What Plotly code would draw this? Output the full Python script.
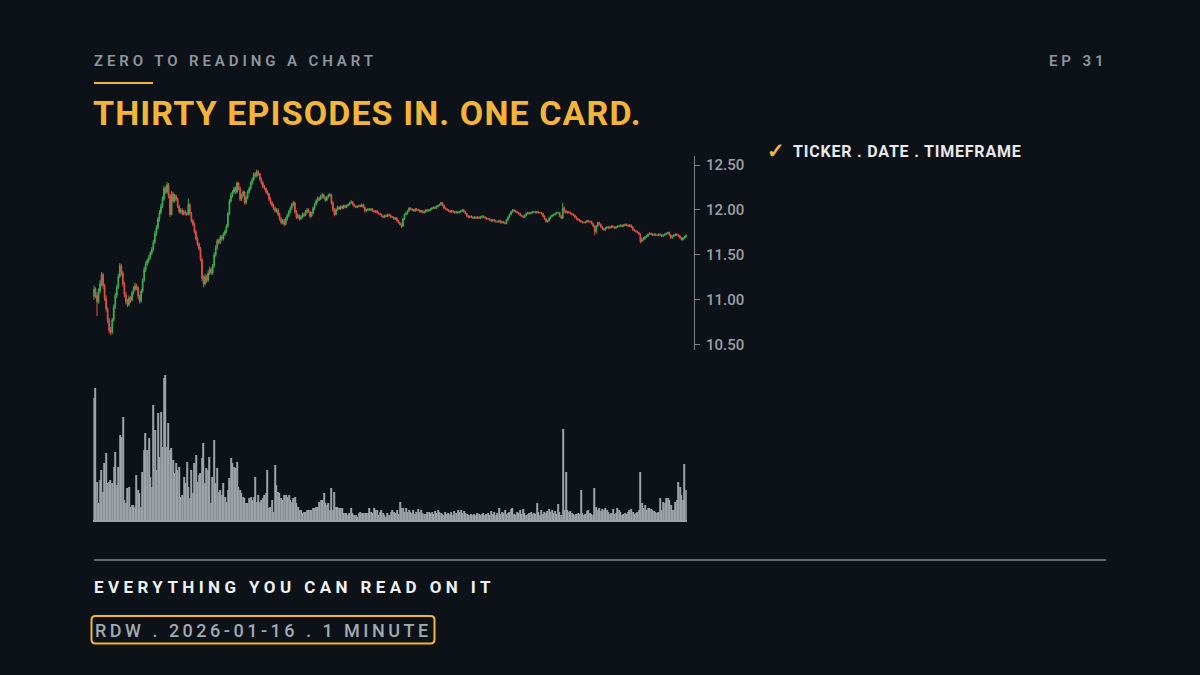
import plotly.graph_objects as go
import pandas as pd

W, H = 1200, 675
BG = "#0d1118"
GOLD = "#f2b53a"
GRAY = "#8f96a0"
UP = "#3fae55"
DN = "#e0524a"
VOL = "#9ea3ab"

# ---- data: RDW, 2026-01-16, 1-minute bars (390 bars, 09:30-15:59) ----
open_ = [
    11.04, 11.12, 11.05, 10.98, 11.10, 11.18, 11.28, 11.16, 11.02, 10.90,
    10.78, 10.66, 10.64, 10.78, 10.92, 11.05, 11.14, 11.26, 11.38, 11.30,
    11.18, 11.06, 10.98, 10.95, 11.02, 11.00, 11.08, 11.12, 11.16, 11.14,
    11.04, 10.99, 11.10, 11.22, 11.34, 11.40, 11.44, 11.47, 11.52, 11.56,
    11.64, 11.74, 11.80, 11.90, 11.97, 12.04, 12.12, 12.24, 12.20, 12.28,
    12.16, 11.95, 12.18, 12.10, 12.16, 12.12, 12.04, 11.98, 12.00, 11.96,
    11.98, 11.96, 11.95, 12.06, 11.96, 11.88, 11.84, 11.76, 11.68, 11.62,
    11.57, 11.45, 11.24, 11.18, 11.26, 11.22, 11.30, 11.34, 11.30, 11.38,
    11.50, 11.58, 11.66, 11.64, 11.70, 11.68, 11.73, 11.76, 11.82, 11.96,
    12.10, 12.16, 12.20, 12.24, 12.20, 12.30, 12.24, 12.12, 12.16, 12.20,
    12.08, 12.14, 12.20, 12.24, 12.30, 12.34, 12.40, 12.38, 12.43, 12.40,
    12.34, 12.30, 12.26, 12.24, 12.20, 12.18, 12.12, 12.08, 12.05, 12.02,
    11.99, 12.00, 11.95, 11.90, 11.86, 11.88, 11.84, 11.90, 11.94, 11.98,
    12.02, 12.06, 12.08, 11.98, 11.92, 11.94, 11.90, 11.92, 11.95, 11.94,
    11.98, 12.00, 11.98, 11.93, 11.96, 12.02, 12.06, 12.10, 12.13, 12.12,
    12.15, 12.17, 12.14, 12.11, 12.14, 12.16, 12.17, 12.08, 12.00, 11.95,
    12.00, 12.03, 12.01, 12.04, 12.02, 12.05, 12.03, 12.05, 12.06, 12.08,
    12.09, 12.06, 12.04, 12.03, 12.04, 12.05, 12.04, 12.06, 12.03, 11.99,
    12.00, 12.01, 12.00, 12.01, 11.99, 11.98, 11.99, 11.97, 11.96, 11.95,
    11.93, 11.92, 11.94, 11.93, 11.95, 11.94, 11.92, 11.92, 11.90, 11.91,
    11.88, 11.86, 11.84, 11.82, 11.90, 11.95, 11.96, 11.99, 12.02, 12.01,
    12.00, 11.99, 12.01, 12.00, 12.00, 11.98, 11.99, 11.97, 11.98, 12.00,
    11.99, 12.00, 12.01, 12.02, 12.03, 12.02, 12.04, 12.05, 12.06, 12.08,
    12.05, 12.02, 12.01, 12.00, 11.99, 11.98, 11.99, 11.98, 11.97, 11.98,
    11.97, 11.98, 11.99, 12.00, 11.98, 11.96, 11.93, 11.92, 11.93, 11.92,
    11.91, 11.92, 11.91, 11.92, 11.91, 11.92, 11.93, 11.92, 11.91, 11.90,
    11.90, 11.89, 11.88, 11.89, 11.88, 11.87, 11.87, 11.88, 11.86, 11.87,
    11.86, 11.85, 11.89, 11.92, 11.95, 11.98, 12.00, 11.99, 11.98, 11.97,
    11.96, 11.94, 11.93, 11.92, 11.94, 11.96, 11.97, 11.96, 11.97, 11.98,
    11.98, 11.97, 11.98, 11.97, 11.97, 11.96, 11.93, 11.90, 11.87, 11.88,
    11.91, 11.93, 11.94, 11.95, 11.96, 11.97, 11.97, 11.93, 11.91, 12.02,
    11.99, 11.97, 11.98, 11.97, 11.96, 11.95, 11.94, 11.92, 11.90, 11.89,
    11.88, 11.87, 11.86, 11.86, 11.87, 11.88, 11.87, 11.87, 11.85, 11.82,
    11.76, 11.82, 11.86, 11.84, 11.81, 11.79, 11.78, 11.80, 11.81, 11.80,
    11.81, 11.82, 11.81, 11.80, 11.81, 11.82, 11.82, 11.83, 11.82, 11.83,
    11.84, 11.83, 11.82, 11.83, 11.81, 11.78, 11.77, 11.76, 11.75, 11.73,
    11.65, 11.67, 11.68, 11.70, 11.71, 11.73, 11.74, 11.73, 11.72, 11.73,
    11.72, 11.72, 11.73, 11.72, 11.71, 11.72, 11.73, 11.74, 11.75, 11.72,
    11.69, 11.71, 11.72, 11.73, 11.72, 11.71, 11.69, 11.67, 11.69, 11.70,
]
high = [
    11.16, 11.14, 11.08, 11.13, 11.22, 11.31, 11.30, 11.18, 11.05, 10.92,
    10.80, 10.70, 10.80, 10.95, 11.08, 11.17, 11.29, 11.41, 11.40, 11.32,
    11.20, 11.09, 11.01, 11.05, 11.04, 11.10, 11.15, 11.19, 11.18, 11.15,
    11.06, 11.12, 11.24, 11.37, 11.43, 11.46, 11.50, 11.54, 11.59, 11.67,
    11.77, 11.83, 11.92, 12.00, 12.07, 12.15, 12.27, 12.26, 12.31, 12.30,
    12.18, 12.21, 12.20, 12.18, 12.17, 12.14, 12.06, 12.02, 12.02, 12.00,
    12.00, 11.98, 12.13, 12.08, 11.98, 11.90, 11.86, 11.78, 11.70, 11.64,
    11.59, 11.47, 11.27, 11.29, 11.28, 11.33, 11.37, 11.36, 11.40, 11.53,
    11.61, 11.68, 11.68, 11.72, 11.72, 11.75, 11.78, 11.84, 11.98, 12.12,
    12.19, 12.22, 12.26, 12.26, 12.32, 12.31, 12.26, 12.18, 12.22, 12.21,
    12.16, 12.22, 12.26, 12.32, 12.36, 12.42, 12.42, 12.45, 12.44, 12.41,
    12.36, 12.32, 12.28, 12.25, 12.22, 12.19, 12.14, 12.10, 12.07, 12.04,
    12.02, 12.02, 11.97, 11.92, 11.90, 11.90, 11.92, 11.96, 12.00, 12.04,
    12.08, 12.10, 12.09, 12.00, 11.96, 11.95, 11.94, 11.97, 11.97, 12.00,
    12.02, 12.02, 11.99, 11.98, 12.04, 12.08, 12.12, 12.15, 12.15, 12.17,
    12.19, 12.18, 12.15, 12.16, 12.18, 12.19, 12.18, 12.10, 12.02, 12.02,
    12.05, 12.04, 12.05, 12.05, 12.06, 12.06, 12.06, 12.07, 12.09, 12.11,
    12.10, 12.07, 12.05, 12.05, 12.06, 12.06, 12.07, 12.07, 12.04, 12.01,
    12.02, 12.02, 12.02, 12.02, 12.00, 12.00, 12.00, 11.98, 11.97, 11.96,
    11.94, 11.95, 11.95, 11.96, 11.96, 11.95, 11.93, 11.93, 11.92, 11.92,
    11.89, 11.87, 11.85, 11.91, 11.96, 11.98, 12.00, 12.03, 12.03, 12.02,
    12.01, 12.02, 12.02, 12.01, 12.01, 12.00, 12.00, 11.99, 12.01, 12.01,
    12.01, 12.02, 12.03, 12.04, 12.04, 12.05, 12.06, 12.07, 12.09, 12.09,
    12.06, 12.03, 12.02, 12.01, 12.00, 12.00, 12.00, 11.99, 11.99, 11.99,
    11.99, 12.00, 12.01, 12.01, 11.99, 11.97, 11.94, 11.94, 11.94, 11.93,
    11.93, 11.93, 11.93, 11.93, 11.93, 11.94, 11.94, 11.93, 11.92, 11.91,
    11.91, 11.90, 11.90, 11.90, 11.89, 11.88, 11.89, 11.89, 11.88, 11.88,
    11.87, 11.90, 11.93, 11.96, 11.99, 12.01, 12.01, 12.00, 11.99, 11.98,
    11.97, 11.95, 11.94, 11.95, 11.97, 11.98, 11.98, 11.98, 11.99, 11.99,
    11.99, 11.99, 11.99, 11.98, 11.98, 11.97, 11.94, 11.91, 11.89, 11.92,
    11.94, 11.95, 11.96, 11.97, 11.98, 11.98, 11.98, 11.94, 12.08, 12.04,
    12.00, 11.99, 11.99, 11.98, 11.97, 11.96, 11.95, 11.93, 11.91, 11.90,
    11.89, 11.88, 11.87, 11.88, 11.89, 11.89, 11.88, 11.88, 11.86, 11.83,
    11.83, 11.87, 11.87, 11.85, 11.82, 11.80, 11.81, 11.82, 11.82, 11.82,
    11.83, 11.83, 11.82, 11.82, 11.83, 11.83, 11.84, 11.84, 11.84, 11.85,
    11.85, 11.84, 11.84, 11.84, 11.82, 11.79, 11.78, 11.77, 11.76, 11.74,
    11.69, 11.70, 11.71, 11.72, 11.74, 11.75, 11.75, 11.74, 11.74, 11.74,
    11.73, 11.74, 11.74, 11.73, 11.73, 11.74, 11.75, 11.76, 11.76, 11.73,
    11.72, 11.73, 11.74, 11.74, 11.73, 11.72, 11.70, 11.70, 11.71, 11.73,
]
low = [
    11.00, 11.02, 10.82, 10.96, 11.07, 11.15, 11.12, 10.99, 10.87, 10.74,
    10.63, 10.61, 10.62, 10.76, 10.90, 11.02, 11.12, 11.24, 11.27, 11.15,
    11.03, 10.95, 10.92, 10.93, 10.97, 10.98, 11.06, 11.10, 11.11, 11.01,
    10.96, 10.97, 11.08, 11.20, 11.31, 11.38, 11.41, 11.45, 11.50, 11.54,
    11.62, 11.71, 11.78, 11.87, 11.95, 12.02, 12.10, 12.18, 12.18, 12.13,
    11.92, 11.94, 12.08, 12.08, 12.10, 12.02, 11.96, 11.96, 11.94, 11.94,
    11.94, 11.93, 11.94, 11.94, 11.86, 11.82, 11.74, 11.66, 11.60, 11.55,
    11.43, 11.21, 11.14, 11.16, 11.19, 11.20, 11.28, 11.28, 11.28, 11.36,
    11.48, 11.56, 11.62, 11.62, 11.66, 11.66, 11.71, 11.74, 11.80, 11.94,
    12.08, 12.14, 12.18, 12.18, 12.18, 12.22, 12.10, 12.10, 12.14, 12.06,
    12.06, 12.12, 12.18, 12.22, 12.28, 12.32, 12.36, 12.36, 12.38, 12.32,
    12.28, 12.24, 12.22, 12.18, 12.16, 12.10, 12.06, 12.03, 12.00, 11.97,
    11.97, 11.93, 11.88, 11.84, 11.84, 11.82, 11.83, 11.88, 11.92, 11.96,
    12.00, 12.04, 11.96, 11.90, 11.90, 11.88, 11.89, 11.91, 11.92, 11.93,
    11.96, 11.97, 11.91, 11.92, 11.95, 12.00, 12.05, 12.08, 12.10, 12.11,
    12.13, 12.12, 12.09, 12.10, 12.13, 12.15, 12.06, 11.98, 11.93, 11.94,
    11.99, 12.00, 12.00, 12.01, 12.01, 12.02, 12.02, 12.04, 12.05, 12.07,
    12.05, 12.03, 12.02, 12.02, 12.03, 12.03, 12.03, 12.02, 11.97, 11.98,
    11.99, 11.99, 11.99, 11.98, 11.97, 11.97, 11.96, 11.95, 11.94, 11.92,
    11.91, 11.91, 11.92, 11.92, 11.93, 11.91, 11.91, 11.89, 11.89, 11.87,
    11.85, 11.83, 11.80, 11.81, 11.89, 11.94, 11.95, 11.98, 12.00, 11.99,
    11.98, 11.98, 11.99, 11.99, 11.97, 11.97, 11.96, 11.96, 11.97, 11.98,
    11.98, 11.99, 12.00, 12.01, 12.01, 12.01, 12.03, 12.04, 12.05, 12.04,
    12.01, 12.00, 11.99, 11.98, 11.97, 11.97, 11.97, 11.96, 11.96, 11.96,
    11.96, 11.97, 11.98, 11.97, 11.95, 11.92, 11.91, 11.91, 11.91, 11.90,
    11.90, 11.90, 11.90, 11.90, 11.90, 11.91, 11.91, 11.90, 11.89, 11.89,
    11.88, 11.87, 11.87, 11.87, 11.86, 11.86, 11.86, 11.85, 11.85, 11.85,
    11.84, 11.84, 11.88, 11.91, 11.94, 11.97, 11.98, 11.97, 11.96, 11.95,
    11.93, 11.92, 11.91, 11.91, 11.93, 11.95, 11.95, 11.95, 11.96, 11.97,
    11.96, 11.96, 11.96, 11.96, 11.95, 11.92, 11.89, 11.86, 11.86, 11.87,
    11.90, 11.92, 11.93, 11.94, 11.95, 11.96, 11.92, 11.90, 11.90, 11.97,
    11.96, 11.96, 11.96, 11.95, 11.94, 11.93, 11.91, 11.89, 11.88, 11.87,
    11.86, 11.85, 11.85, 11.85, 11.86, 11.86, 11.86, 11.84, 11.81, 11.72,
    11.74, 11.81, 11.83, 11.80, 11.78, 11.77, 11.77, 11.79, 11.79, 11.79,
    11.80, 11.80, 11.79, 11.79, 11.80, 11.81, 11.81, 11.81, 11.81, 11.82,
    11.82, 11.81, 11.81, 11.80, 11.77, 11.76, 11.75, 11.74, 11.72, 11.63,
    11.64, 11.66, 11.67, 11.69, 11.70, 11.72, 11.72, 11.71, 11.71, 11.71,
    11.71, 11.71, 11.71, 11.70, 11.70, 11.71, 11.72, 11.73, 11.71, 11.68,
    11.68, 11.70, 11.71, 11.71, 11.70, 11.68, 11.66, 11.66, 11.68, 11.69,
]
close = [
    11.12, 11.05, 10.98, 11.10, 11.18, 11.28, 11.16, 11.02, 10.90, 10.78,
    10.66, 10.64, 10.78, 10.92, 11.05, 11.14, 11.26, 11.38, 11.30, 11.18,
    11.06, 10.98, 10.95, 11.02, 11.00, 11.08, 11.12, 11.16, 11.14, 11.04,
    10.99, 11.10, 11.22, 11.34, 11.40, 11.44, 11.47, 11.52, 11.56, 11.64,
    11.74, 11.80, 11.90, 11.97, 12.04, 12.12, 12.24, 12.20, 12.28, 12.16,
    11.95, 12.18, 12.10, 12.16, 12.12, 12.04, 11.98, 12.00, 11.96, 11.98,
    11.96, 11.95, 12.06, 11.96, 11.88, 11.84, 11.76, 11.68, 11.62, 11.57,
    11.45, 11.24, 11.18, 11.26, 11.22, 11.30, 11.34, 11.30, 11.38, 11.50,
    11.58, 11.66, 11.64, 11.70, 11.68, 11.73, 11.76, 11.82, 11.96, 12.10,
    12.16, 12.20, 12.24, 12.20, 12.30, 12.24, 12.12, 12.16, 12.20, 12.08,
    12.14, 12.20, 12.24, 12.30, 12.34, 12.40, 12.38, 12.43, 12.40, 12.34,
    12.30, 12.26, 12.24, 12.20, 12.18, 12.12, 12.08, 12.05, 12.02, 11.99,
    12.00, 11.95, 11.90, 11.86, 11.88, 11.84, 11.90, 11.94, 11.98, 12.02,
    12.06, 12.08, 11.98, 11.92, 11.94, 11.90, 11.92, 11.95, 11.94, 11.98,
    12.00, 11.98, 11.93, 11.96, 12.02, 12.06, 12.10, 12.13, 12.12, 12.15,
    12.17, 12.14, 12.11, 12.14, 12.16, 12.17, 12.08, 12.00, 11.95, 12.00,
    12.03, 12.01, 12.04, 12.02, 12.05, 12.03, 12.05, 12.06, 12.08, 12.09,
    12.06, 12.04, 12.03, 12.04, 12.05, 12.04, 12.06, 12.03, 11.99, 12.00,
    12.01, 12.00, 12.01, 11.99, 11.98, 11.99, 11.97, 11.96, 11.95, 11.93,
    11.92, 11.94, 11.93, 11.95, 11.94, 11.92, 11.92, 11.90, 11.91, 11.88,
    11.86, 11.84, 11.82, 11.90, 11.95, 11.96, 11.99, 12.02, 12.01, 12.00,
    11.99, 12.01, 12.00, 12.00, 11.98, 11.99, 11.97, 11.98, 12.00, 11.99,
    12.00, 12.01, 12.02, 12.03, 12.02, 12.04, 12.05, 12.06, 12.08, 12.05,
    12.02, 12.01, 12.00, 11.99, 11.98, 11.99, 11.98, 11.97, 11.98, 11.97,
    11.98, 11.99, 12.00, 11.98, 11.96, 11.93, 11.92, 11.93, 11.92, 11.91,
    11.92, 11.91, 11.92, 11.91, 11.92, 11.93, 11.92, 11.91, 11.90, 11.90,
    11.89, 11.88, 11.89, 11.88, 11.87, 11.87, 11.88, 11.86, 11.87, 11.86,
    11.85, 11.89, 11.92, 11.95, 11.98, 12.00, 11.99, 11.98, 11.97, 11.96,
    11.94, 11.93, 11.92, 11.94, 11.96, 11.97, 11.96, 11.97, 11.98, 11.98,
    11.97, 11.98, 11.97, 11.97, 11.96, 11.93, 11.90, 11.87, 11.88, 11.91,
    11.93, 11.94, 11.95, 11.96, 11.97, 11.97, 11.93, 11.91, 12.02, 11.99,
    11.97, 11.98, 11.97, 11.96, 11.95, 11.94, 11.92, 11.90, 11.89, 11.88,
    11.87, 11.86, 11.86, 11.87, 11.88, 11.87, 11.87, 11.85, 11.82, 11.76,
    11.82, 11.86, 11.84, 11.81, 11.79, 11.78, 11.80, 11.81, 11.80, 11.81,
    11.82, 11.81, 11.80, 11.81, 11.82, 11.82, 11.83, 11.82, 11.83, 11.84,
    11.83, 11.82, 11.83, 11.81, 11.78, 11.77, 11.76, 11.75, 11.73, 11.65,
    11.67, 11.68, 11.70, 11.71, 11.73, 11.74, 11.73, 11.72, 11.73, 11.72,
    11.72, 11.73, 11.72, 11.71, 11.72, 11.73, 11.74, 11.75, 11.72, 11.69,
    11.71, 11.72, 11.73, 11.72, 11.71, 11.69, 11.67, 11.69, 11.70, 11.72,
]
volume_k = [
    122, 132, 38, 17, 40, 50, 28, 57, 67, 37,
    38, 40, 37, 53, 68, 35, 53, 85, 83, 103,
    20, 17, 32, 33, 13, 15, 15, 13, 45, 30,
    27, 13, 48, 70, 87, 70, 82, 43, 33, 115,
    90, 50, 107, 63, 108, 73, 142, 145, 73, 97,
    70, 72, 60, 47, 57, 50, 53, 23, 25, 43,
    37, 58, 33, 22, 50, 27, 57, 65, 38, 45,
    47, 62, 77, 37, 52, 50, 63, 17, 43, 80,
    37, 52, 28, 30, 25, 37, 23, 18, 30, 42,
    62, 57, 53, 52, 58, 33, 30, 27, 23, 22,
    17, 17, 22, 23, 20, 23, 43, 18, 25, 18,
    20, 22, 25, 27, 50, 12, 13, 20, 8, 55,
    35, 28, 27, 22, 20, 25, 25, 23, 25, 20,
    18, 22, 23, 17, 13, 10, 10, 7, 8, 8,
    10, 10, 10, 10, 12, 12, 13, 13, 18, 20,
    20, 27, 17, 15, 17, 10, 32, 10, 28, 13,
    13, 12, 12, 12, 7, 7, 7, 5, 7, 12,
    7, 5, 5, 3, 7, 8, 7, 7, 7, 7,
    7, 12, 8, 7, 12, 10, 10, 5, 8, 10,
    7, 5, 3, 7, 5, 8, 10, 8, 7, 10,
    6, 18, 12, 12, 8, 12, 8, 10, 8, 7,
    10, 6, 8, 11, 8, 10, 7, 6, 6, 8,
    8, 7, 8, 6, 9, 7, 10, 8, 7, 6,
    5, 8, 6, 7, 6, 8, 5, 9, 7, 10,
    8, 10, 7, 9, 7, 6, 5, 5, 6, 5,
    6, 5, 7, 6, 5, 6, 7, 5, 6, 7,
    5, 9, 6, 8, 5, 7, 12, 6, 8, 7,
    10, 6, 7, 8, 11, 12, 6, 5, 8, 7,
    10, 6, 11, 7, 5, 6, 7, 8, 6, 7,
    6, 17, 8, 5, 10, 6, 8, 7, 9, 11,
    8, 10, 7, 9, 6, 16, 8, 5, 91, 10,
    48, 10, 8, 9, 7, 6, 5, 6, 7, 6,
    30, 7, 5, 6, 9, 10, 7, 6, 5, 32,
    13, 10, 12, 9, 11, 10, 12, 10, 8, 6,
    7, 11, 6, 7, 12, 10, 8, 5, 6, 7,
    6, 8, 10, 11, 8, 6, 7, 8, 10, 48,
    17, 12, 15, 10, 12, 12, 11, 10, 9, 8,
    7, 8, 22, 10, 18, 17, 22, 22, 20, 15,
    10, 10, 18, 20, 38, 33, 25, 20, 56, 30,
]
price_ticks = [10.5, 11.0, 11.5, 12.0, 12.5]
price_tick_labels = ["10.50", "11.00", "11.50", "12.00", "12.50"]

times = pd.date_range("2026-01-16 09:30", periods=len(close), freq="min")


def px(x):
    return x / W


def py(y):
    return 1 - y / H


FONT = "Roboto"

fig = go.Figure()
fig.add_trace(go.Candlestick(
    x=times, open=open_, high=high, low=low, close=close,
    increasing=dict(line=dict(color=UP, width=1), fillcolor=UP),
    decreasing=dict(line=dict(color=DN, width=1), fillcolor=DN),
    whiskerwidth=0, xaxis="x", yaxis="y", showlegend=False, hoverinfo="skip",
))
fig.add_trace(go.Bar(
    x=times, y=volume_k, marker=dict(color=VOL, line=dict(width=0)),
    xaxis="x2", yaxis="y2", showlegend=False, hoverinfo="skip",
))

x_dom = [px(93.2), px(686.8)]
x_rng = [times[0] - pd.Timedelta(seconds=30), times[-1] + pd.Timedelta(seconds=30)]

fig.update_layout(
    width=W, height=H,
    margin=dict(l=0, r=0, t=0, b=0, pad=0, autoexpand=False),
    paper_bgcolor=BG, plot_bgcolor=BG,
    bargap=0.3,
    showlegend=False,
    font=dict(family=FONT, color=GRAY),
    xaxis=dict(domain=x_dom, range=x_rng, visible=False, anchor="y",
               rangeslider=dict(visible=False), fixedrange=True),
    yaxis=dict(domain=[py(350), py(156)], range=[10.444, 12.6], side="right",
               anchor="free", position=px(694), showline=True, linecolor="#7d838c",
               linewidth=1, ticks="outside", ticklen=5, tickcolor="#7d838c",
               tickvals=price_ticks, ticktext=price_tick_labels,
               tickfont=dict(family=FONT, size=15, color="#9aa0a8", weight=500),
               showgrid=False, zeroline=False, ticklabelstandoff=3),
    xaxis2=dict(domain=x_dom, range=x_rng, anchor="y2", showline=True,
                linecolor="#9ea3ab", linewidth=2, showticklabels=False, ticks="",
                showgrid=False, zeroline=False),
    yaxis2=dict(domain=[py(520), py(375)], range=[0, 145], visible=False),
)


def ann(text, x, y, size, color, weight=700, xanchor="left", spacing=0):
    t = f'<span style="letter-spacing:{spacing}px">{text}</span>' if spacing else text
    fig.add_annotation(
        text=t, x=px(x), y=py(y), xref="paper", yref="paper",
        xanchor=xanchor, yanchor="middle", align=xanchor, showarrow=False,
        font=dict(family=FONT, size=size, color=color, weight=weight),
    )


ann("ZERO TO READING A CHART", 92, 61, 15, GRAY, 600, spacing=3.9)
ann("EP 31", 1109, 61, 15, GRAY, 600, xanchor="right", spacing=3.9)
ann("THIRTY EPISODES IN. ONE CARD.", 91, 113, 34, GOLD, 700, spacing=1.1)
ann("✓", 765, 151, 21, GOLD, 700)
ann("TICKER . DATE . TIMEFRAME", 791, 152, 16, "#e8eaed", 700, spacing=0.8)
ann("EVERYTHING YOU CAN READ ON IT", 92, 587, 17, "#eef0f2", 700, spacing=4.4)
ann("RDW . 2026-01-16 . 1 MINUTE", 93, 630, 18, "#a3a9b1", 500, spacing=3.5)

# gold underline under the series name
fig.add_shape(type="line", xref="paper", yref="paper", x0=px(94), x1=px(153),
              y0=py(83), y1=py(83), line=dict(color=GOLD, width=2))
# separator
fig.add_shape(type="line", xref="paper", yref="paper", x0=px(94), x1=px(1106),
              y0=py(560), y1=py(560), line=dict(color="#80868f", width=1.5))
# rounded box around the ticker line
x0, x1, y0, y1 = px(91.5), px(434.5), py(643.5), py(616)
rx, ry = px(4), 4 / H
path = (f"M {x0+rx},{y0} L {x1-rx},{y0} Q {x1},{y0} {x1},{y0+ry} "
        f"L {x1},{y1-ry} Q {x1},{y1} {x1-rx},{y1} L {x0+rx},{y1} "
        f"Q {x0},{y1} {x0},{y1-ry} L {x0},{y0+ry} Q {x0},{y0} {x0+rx},{y0} Z")
fig.add_shape(type="path", path=path, xref="paper", yref="paper",
              line=dict(color=GOLD, width=2), fillcolor="rgba(0,0,0,0)")

fig.write_html("out.html", include_plotlyjs=True,
               config={"displayModeBar": False},
               post_script="document.body.style.margin='0';document.body.style.background='%s';" % BG)
